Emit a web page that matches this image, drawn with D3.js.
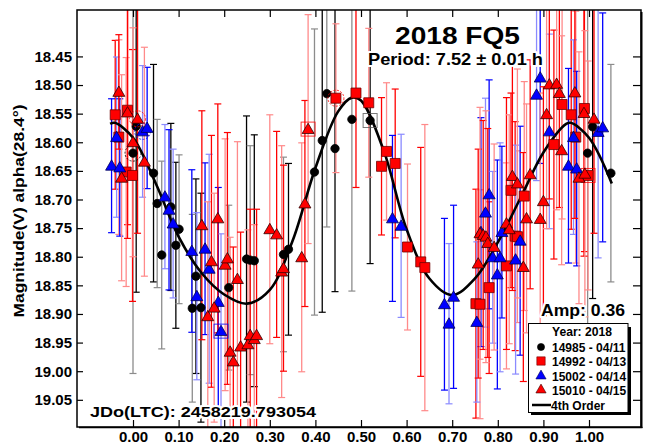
<!DOCTYPE html>
<html><head><meta charset="utf-8">
<script src="https://cdn.jsdelivr.net/npm/d3@7"></script>
<style>
body{margin:0;background:#fff}
svg{display:block}
text{font-family:"Liberation Sans",Arial,sans-serif;font-weight:bold;fill:#000}
</style>
</head><body>
<svg id="c" width="646" height="445"></svg>
<script>
// ---------- text ----------
const titleText = "2018 FQ5";
const periodText = "Period: 7.52 ± 0.01 h";
const ampText = "Amp: 0.36";
const jdText = "JDo(LTC): 2458219.793054";
const yLabel = "Magnitude(V) alpha(28.4°)";
const legendTitle = "Year: 2018";
const seriesNames = ["14985 - 04/11", "14992 - 04/13", "15002 - 04/14", "15010 - 04/15"];
const fitName = "4th Order";

// ---------- ticks ----------
const xTicks = [0.00, 0.10, 0.20, 0.30, 0.40, 0.50, 0.60, 0.70, 0.80, 0.90, 1.00];
const yTicks = [18.45, 18.50, 18.55, 18.60, 18.65, 18.70, 18.75, 18.80, 18.85, 18.90, 18.95, 19.00, 19.05];

// ---------- data: [phase, magnitude, error, flag] ----------
const s14985 = [
  [0.007,18.572,0.29],[0.000,18.619,0.385,"o"],[0.045,18.654,0.19],[0.053,18.707,0.147],
  [0.083,18.713,0.146],[0.063,18.797,0.164],[0.094,18.780,0.145],[0.101,18.752,0.13],
  [0.138,18.834,0.17],[0.130,18.890,0.164],[0.149,18.889,0.2],[0.210,18.854,0.144],
  [0.249,18.804,0.25],[0.257,18.806,0.2],[0.266,18.807,0.22],[0.330,18.796,0.17],
  [0.341,18.787,0.15],[0.398,18.652,0.25],[0.415,18.597,0.3],[0.425,18.515,0.233],
  [0.443,18.611,0.25],[0.480,18.560,0.3],[0.520,18.562,0.25,"s"],[0.997,18.619,0.35],
  [1.008,18.573,0.3],[1.048,18.654,0.19]
];
const s14992 = [
  [-0.039,18.552,0.13],[-0.031,18.591,0.17],[-0.012,18.544,0.2],[-0.015,18.652,0.2],
  [-0.001,18.658,0.22],[0.445,18.523,0.13,"o"],[0.489,18.514,0.165],[0.517,18.531,0.13],
  [0.545,18.642,0.12],[0.556,18.616,0.12],[0.575,18.637,0.13],[0.602,18.783,0.145],
  [0.631,18.809,0.2],[0.640,18.819,0.25],[0.752,18.882,0.2],[0.761,18.883,0.2],
  [0.781,18.854,0.15],[0.819,18.816,0.18],[0.838,18.764,0.2],[0.843,18.765,0.15],
  [0.829,18.684,0.17],[0.858,18.694,0.2],[0.923,18.604,0.2],[0.941,18.534,0.2],
  [0.961,18.552,0.2],[0.971,18.591,0.22],[0.990,18.541,0.25],[0.998,18.658,0.2,"s"]
];
const s15002 = [
  [-0.047,18.641,0.117],[-0.036,18.591,0.14],[-0.029,18.644,0.12],[0.021,18.581,0.115,"o"],
  [0.031,18.575,0.106],[0.070,18.695,0.126],[0.079,18.718,0.14],[0.088,18.742,0.13],
  [0.129,18.790,0.142],[0.140,18.869,0.146],[0.158,18.786,0.15],[0.167,18.821,0.2],
  [0.187,18.879,0.2],[0.193,18.930,0.17,"s"],[0.569,18.733,0.145],[0.588,18.746,0.16],
  [0.683,18.883,0.15],[0.693,18.917,0.14],[0.703,18.870,0.16],[0.754,18.914,0.14],
  [0.763,18.757,0.2],[0.773,18.723,0.2],[0.781,18.691,0.2],[0.789,18.801,0.15],
  [0.799,18.831,0.2],[0.805,18.801,0.2],[0.809,18.757,0.15],[0.839,18.805,0.2],
  [0.849,18.772,0.2],[0.885,18.517,0.15],[0.893,18.487,0.15],[0.913,18.581,0.17],
  [0.955,18.641,0.17],[0.966,18.591,0.17],[0.973,18.646,0.17],[1.020,18.582,0.22],
  [1.030,18.574,0.2]
];
const s15010 = [
  [-0.031,18.512,0.1],[-0.025,18.662,0.18],[-0.012,18.548,0.22],[0.000,18.600,0.2],
  [0.010,18.559,0.2,"o"],[0.025,18.634,0.2],[0.151,18.745,0.2],[0.164,18.904,0.2],
  [0.172,18.808,0.22],[0.178,18.889,0.2],[0.186,18.733,0.2],[0.202,18.814,0.22],
  [0.207,18.803,0.22],[0.213,18.966,0.2],[0.220,18.983,0.2],[0.229,18.839,0.24],
  [0.236,18.957,0.2],[0.252,18.953,0.2],[0.257,18.937,0.22],[0.266,18.944,0.2],
  [0.271,18.937,0.22],[0.300,18.752,0.2],[0.315,18.761,0.18],[0.326,18.826,0.22],
  [0.330,18.820,0.18],[0.370,18.801,0.2],[0.377,18.707,0.18],[0.384,18.577,0.2,"s"],
  [0.757,18.812,0.2],[0.761,18.759,0.22],[0.768,18.762,0.2],[0.774,18.765,0.22],
  [0.778,18.776,0.2],[0.792,18.783,0.18],[0.819,18.742,0.22],[0.825,18.752,0.2],
  [0.832,18.659,0.2],[0.843,18.672,0.2],[0.856,18.818,0.2],[0.863,18.733,0.2],
  [0.871,18.656,0.2],[0.893,18.734,0.22],[0.900,18.703,0.2],[0.907,18.551,0.2],
  [0.913,18.499,0.2],[0.929,18.498,0.22],[0.935,18.514,0.2],[0.940,18.614,0.2],
  [0.969,18.513,0.22],[0.978,18.662,0.22],[0.989,18.549,0.25],[0.991,18.655,0.25],
  [1.011,18.559,0.2]
];

// 4th order Fourier fit
const fitPhase = [-0.05,-0.04,0.00,0.05,0.10,0.15,0.20,0.25,0.30,0.35,0.40,0.45,0.48,0.50,0.55,0.60,0.65,0.70,0.75,0.80,0.85,0.90,0.95,0.96,1.00,1.05];
const fitMag   = [18.568,18.566,18.592,18.672,18.765,18.828,18.866,18.882,18.858,18.772,18.645,18.546,18.522,18.527,18.615,18.752,18.838,18.867,18.838,18.775,18.697,18.618,18.568,18.566,18.592,18.672];

// ---------- setup ----------
const L = 77, R = 641, T = 10, B = 427;
const svg = d3.select("#c");
const x = d3.scaleLinear().domain([(L-133)/456, (R-133)/456]).range([L, R]);
const y = d3.scaleLinear().domain([18.3689, 19.0975]).range([T, B]);

const styles = [
  {data:s14985, shape:d3.symbolCircle, size:55, fill:"#000", stroke:"#000", bar:["#000","#8c8c8c"]},
  {data:s14992, shape:d3.symbolSquare, size:100, fill:"#ff0000", stroke:"#700000", bar:["#ff0000","#ff8a8a"]},
  {data:s15002, shape:d3.symbolTriangle, size:62, fill:"#0000ff", stroke:"#000050", bar:["#0000ff","#8a8aff"]},
  {data:s15010, shape:d3.symbolTriangle, size:62, fill:"#ff0000", stroke:"#300000", bar:["#ff0000","#ff8a8a"]}
];

svg.append("defs").append("clipPath").attr("id","clip")
  .append("rect").attr("x",L).attr("y",T).attr("width",R-L).attr("height",B-T);

const plot = svg.append("g").attr("clip-path","url(#clip)");

// error bars
styles.forEach(st => {
  const g = plot.append("g");
  st.data.forEach((d,i) => {
    const c = st.bar[i % 2];
    const px = x(d[0]), y1 = y(d[1]-d[2]), y2 = y(d[1]+d[2]);
    g.append("line").attr("x1",px).attr("x2",px).attr("y1",y1).attr("y2",y2)
      .attr("stroke",c).attr("stroke-width",1.3);
    [y1,y2].forEach(yy => g.append("line").attr("x1",px-3.5).attr("x2",px+3.5)
      .attr("y1",yy).attr("y2",yy).attr("stroke",c).attr("stroke-width",1.2));
  });
});

// fit curve
const fit = fitPhase.map((p,i)=>[p, fitMag[i]]);
plot.append("path").datum(fit)
  .attr("d", d3.line().x(d=>x(d[0])).y(d=>y(d[1])).curve(d3.curveCatmullRom.alpha(0.5)))
  .attr("fill","none").attr("stroke","#000").attr("stroke-width",2.6);

// markers
styles.forEach(st => {
  const g = plot.append("g");
  st.data.forEach(d => {
    const px = x(d[0]), py = y(d[1]);
    g.append("path").attr("d", d3.symbol().type(st.shape).size(st.size)())
      .attr("transform",`translate(${px},${py + (st.shape===d3.symbolTriangle?1:0)})`)
      .attr("fill",st.fill).attr("stroke",st.stroke).attr("stroke-width",0.8);
    if (d[3]==="o") {
      g.append("circle").attr("cx",px).attr("cy",py).attr("r",8)
        .attr("fill","none").attr("stroke",st.bar[0]).attr("stroke-width",1).attr("stroke-dasharray","2,1.5").attr("opacity",0.8);
    } else if (d[3]==="s") {
      g.append("rect").attr("x",px-7).attr("y",py-7).attr("width",14).attr("height",14)
        .attr("fill","none").attr("stroke",st.bar[1]==="#8c8c8c"?"#555":st.bar[0]).attr("stroke-width",1).attr("opacity",0.8);
    }
  });
});

// axes (inward ticks)
const fmt = d3.format(".2f");
const axL = svg.append("g").attr("transform",`translate(${L},0)`)
  .call(d3.axisLeft(y).tickValues(yTicks).tickSize(-6).tickPadding(5).tickFormat(fmt));
const axR = svg.append("g").attr("transform",`translate(${R},0)`)
  .call(d3.axisRight(y).tickValues(yTicks).tickSize(-8).tickFormat(""));
const axB = svg.append("g").attr("transform",`translate(0,${B})`)
  .call(d3.axisBottom(x).tickValues(xTicks).tickSize(-7).tickPadding(4.5).tickFormat(fmt));
const axT = svg.append("g").attr("transform",`translate(0,${T})`)
  .call(d3.axisTop(x).tickValues(xTicks).tickSize(-7).tickFormat(""));
[axL,axR,axB,axT].forEach(a => {
  a.select(".domain").remove();
  a.selectAll("line").attr("stroke","#000").attr("stroke-width",1.2);
  a.selectAll("text").attr("font-size",15).attr("font-family","'Liberation Sans',Arial,sans-serif").attr("font-weight","bold").attr("fill","#000");
});

// frame
svg.append("rect").attr("x",L).attr("y",T).attr("width",R-L).attr("height",B-T)
  .attr("fill","none").attr("stroke","#000").attr("stroke-width",1.5);
svg.append("line").attr("x1",R+0.5).attr("x2",R+0.5).attr("y1",T+2).attr("y2",B+1).attr("stroke","#000").attr("stroke-width",2);
svg.append("line").attr("x1",L+2).attr("x2",R+1.5).attr("y1",B+0.5).attr("y2",B+0.5).attr("stroke","#000").attr("stroke-width",1.5);

// texts with white halo
function label(txt, xx, yy, size, len, anchor) {
  const t = svg.append("text").attr("x",xx).attr("y",yy).attr("font-size",size)
    .attr("text-anchor",anchor||"start")
    .attr("stroke","#fff").attr("stroke-width",4).attr("paint-order","stroke").attr("stroke-linejoin","round")
    .text(txt);
  if (len) t.attr("textLength",len).attr("lengthAdjust","spacingAndGlyphs");
  return t;
}
label(titleText, 395, 44, 23, 125);
label(periodText, 368, 65, 17, 175);
label(ampText, 541, 316, 16, 84);
label(jdText, 90, 417, 15, 226);

svg.append("text").attr("transform","translate(24,211) rotate(-90)").attr("text-anchor","middle")
  .attr("font-size",14).attr("textLength",213).attr("lengthAdjust","spacingAndGlyphs").text(yLabel);

// legend
const lg = svg.append("g");
lg.append("rect").attr("x",531).attr("y",327).attr("width",100).attr("height",88).attr("fill","#000");
lg.append("rect").attr("x",528.5).attr("y",323.5).attr("width",99.5).attr("height",89).attr("fill","#fff").attr("stroke","#000").attr("stroke-width",1);
lg.append("text").attr("x",582).attr("y",336).attr("text-anchor","middle").attr("font-size",12).attr("textLength",60).attr("lengthAdjust","spacingAndGlyphs").text(legendTitle);
const rowY = [347, 361, 376, 390];
styles.forEach((st,i) => {
  lg.append("path").attr("d", d3.symbol().type(st.shape).size(st.shape===d3.symbolSquare?70:st.shape===d3.symbolCircle?40:45)())
    .attr("transform",`translate(541,${rowY[i]})`)
    .attr("fill",st.fill).attr("stroke",st.stroke).attr("stroke-width",0.6);
  lg.append("text").attr("x",552).attr("y",rowY[i]+4.5).attr("font-size",12).text(seriesNames[i]);
});
lg.append("line").attr("x1",532).attr("x2",551).attr("y1",405).attr("y2",405).attr("stroke","#000").attr("stroke-width",2.5);
lg.append("text").attr("x",551).attr("y",409.5).attr("font-size",12).text(fitName);
</script>
</body></html>
